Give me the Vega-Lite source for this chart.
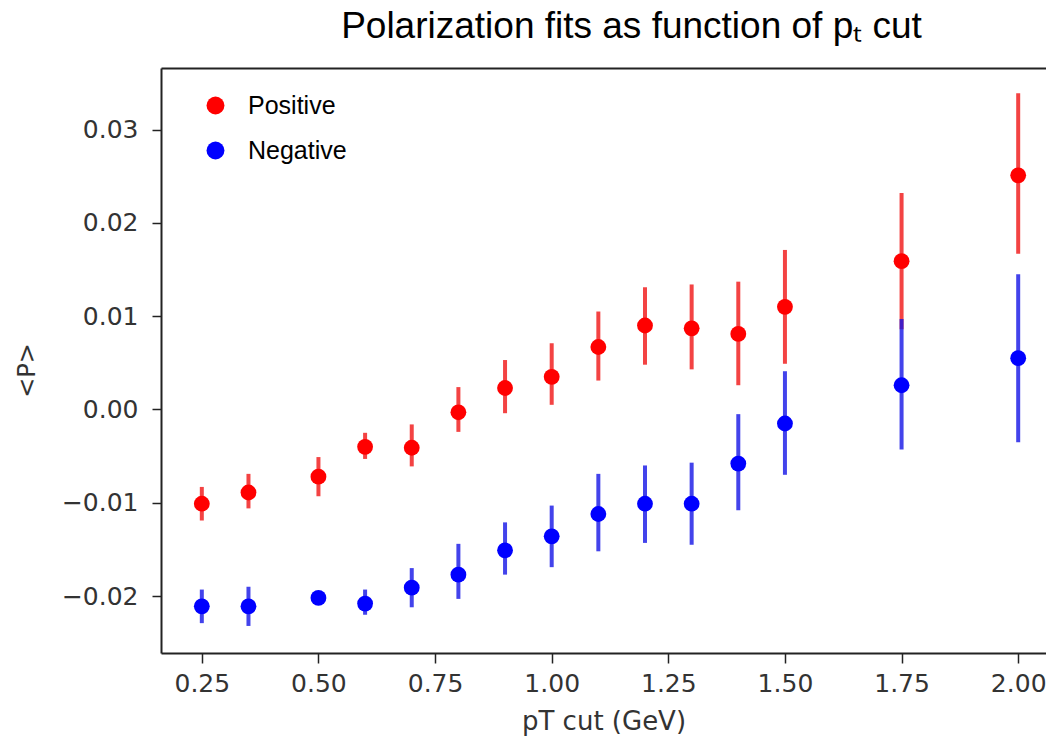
{
  "$schema": "https://vega.github.io/schema/vega-lite/v6.json",
  "autosize": {"type": "none"},
  "padding": {"left": 161, "top": 68, "right": 0, "bottom": 85},
  "width": 885,
  "height": 585,
  "background": "white",
  "title": {
    "text": "Polarization fits as function of pₜ cut",
    "font": "Liberation Sans",
    "fontSize": 37,
    "fontWeight": "normal",
    "color": "#000000",
    "anchor": "middle",
    "frame": "group",
    "dx": 28,
    "offset": 22
  },
  "config": {"view": {"stroke": null}},
  "datasets": {
    "pol": [
      {"pt": 0.25, "series": "Positive", "P": -0.0101, "lo": -0.0119, "hi": -0.0083},
      {"pt": 0.35, "series": "Positive", "P": -0.0089, "lo": -0.0106, "hi": -0.0069},
      {"pt": 0.50, "series": "Positive", "P": -0.0072, "lo": -0.0093, "hi": -0.0051},
      {"pt": 0.60, "series": "Positive", "P": -0.0040, "lo": -0.0053, "hi": -0.0025},
      {"pt": 0.70, "series": "Positive", "P": -0.0041, "lo": -0.0061, "hi": -0.0016},
      {"pt": 0.80, "series": "Positive", "P": -0.0003, "lo": -0.0024, "hi": 0.0024},
      {"pt": 0.90, "series": "Positive", "P": 0.0023, "lo": -0.0004, "hi": 0.0053},
      {"pt": 1.00, "series": "Positive", "P": 0.0035, "lo": 0.0005, "hi": 0.0071},
      {"pt": 1.10, "series": "Positive", "P": 0.0067, "lo": 0.0031, "hi": 0.0105},
      {"pt": 1.20, "series": "Positive", "P": 0.0090, "lo": 0.0048, "hi": 0.0131},
      {"pt": 1.30, "series": "Positive", "P": 0.0087, "lo": 0.0043, "hi": 0.0134},
      {"pt": 1.40, "series": "Positive", "P": 0.0081, "lo": 0.0026, "hi": 0.0137},
      {"pt": 1.50, "series": "Positive", "P": 0.0110, "lo": 0.0049, "hi": 0.0171},
      {"pt": 1.75, "series": "Positive", "P": 0.0159, "lo": 0.0086, "hi": 0.0232},
      {"pt": 2.00, "series": "Positive", "P": 0.0251, "lo": 0.0167, "hi": 0.0339},
      {"pt": 0.25, "series": "Negative", "P": -0.0211, "lo": -0.0229, "hi": -0.0193},
      {"pt": 0.35, "series": "Negative", "P": -0.0211, "lo": -0.0232, "hi": -0.0190},
      {"pt": 0.50, "series": "Negative", "P": -0.0202, "lo": -0.0205, "hi": -0.0199},
      {"pt": 0.60, "series": "Negative", "P": -0.0208, "lo": -0.0220, "hi": -0.0193},
      {"pt": 0.70, "series": "Negative", "P": -0.0191, "lo": -0.0212, "hi": -0.0170},
      {"pt": 0.80, "series": "Negative", "P": -0.0177, "lo": -0.0203, "hi": -0.0144},
      {"pt": 0.90, "series": "Negative", "P": -0.0151, "lo": -0.0177, "hi": -0.0121},
      {"pt": 1.00, "series": "Negative", "P": -0.0136, "lo": -0.0169, "hi": -0.0103},
      {"pt": 1.10, "series": "Negative", "P": -0.0112, "lo": -0.0152, "hi": -0.0069},
      {"pt": 1.20, "series": "Negative", "P": -0.0101, "lo": -0.0143, "hi": -0.0060},
      {"pt": 1.30, "series": "Negative", "P": -0.0101, "lo": -0.0145, "hi": -0.0057},
      {"pt": 1.40, "series": "Negative", "P": -0.0058, "lo": -0.0108, "hi": -0.0005},
      {"pt": 1.50, "series": "Negative", "P": -0.0015, "lo": -0.0070, "hi": 0.0041},
      {"pt": 1.75, "series": "Negative", "P": 0.0026, "lo": -0.0043, "hi": 0.0097},
      {"pt": 2.00, "series": "Negative", "P": 0.0055, "lo": -0.0035, "hi": 0.0145}
    ]
  },
  "data": {"name": "pol"},
  "resolve": {"axis": {"x": "independent"}},
  "layer": [
    {
      "transform": [{"filter": "datum.series === 'Positive'"}],
      "mark": {"type": "rule", "strokeWidth": 4, "color": "#f01414", "opacity": 0.8},
      "encoding": {
        "x": {
          "field": "pt",
          "type": "quantitative",
          "scale": {"domain": [0.1625, 2.0596], "nice": false, "zero": false},
          "axis": {
            "orient": "bottom",
            "values": [0.25, 0.5, 0.75, 1.0, 1.25, 1.5, 1.75, 2.0],
            "format": ".2f",
            "title": "pT cut (GeV)",
            "grid": false,
            "labelFlush": false,
            "labelOverlap": false,
            "domainColor": "#222222",
            "domainWidth": 2,
            "tickColor": "#222222",
            "tickWidth": 1.5,
            "tickSize": 10,
            "labelFont": "DejaVu Sans",
            "labelFontSize": 25,
            "labelColor": "#333333",
            "labelPadding": 8,
            "titleFont": "DejaVu Sans",
            "titleFontSize": 26,
            "titleFontWeight": "normal",
            "titleColor": "#333333",
            "titlePadding": 12
          }
        },
        "y": {
          "field": "lo",
          "type": "quantitative",
          "scale": {"domain": [-0.0261, 0.0366], "nice": false, "zero": false},
          "axis": {
            "values": [-0.02, -0.01, 0, 0.01, 0.02, 0.03],
            "format": ".2f",
            "title": "<P>",
            "grid": false,
            "labelFlush": false,
            "labelOverlap": false,
            "domainColor": "#222222",
            "domainWidth": 2,
            "tickColor": "#222222",
            "tickWidth": 1.5,
            "tickSize": 9,
            "labelFont": "DejaVu Sans",
            "labelFontSize": 25,
            "labelColor": "#333333",
            "labelPadding": 14,
            "titleFont": "DejaVu Sans",
            "titleFontSize": 24,
            "titleFontWeight": "normal",
            "titleColor": "#333333",
            "titlePadding": 22,
            "titleY": 302
          }
        },
        "y2": {"field": "hi"}
      }
    },
    {
      "transform": [{"filter": "datum.series === 'Negative'"}],
      "mark": {"type": "rule", "strokeWidth": 4, "color": "#1414e6", "opacity": 0.8},
      "encoding": {
        "x": {
          "field": "pt",
          "type": "quantitative",
          "scale": {"domain": [0.1625, 2.0596], "nice": false, "zero": false},
          "axis": null
        },
        "y": {
          "field": "lo",
          "type": "quantitative",
          "scale": {"domain": [-0.0261, 0.0366], "nice": false, "zero": false}
        },
        "y2": {"field": "hi"}
      }
    },
    {
      "mark": {"type": "circle", "size": 250, "opacity": 1},
      "encoding": {
        "x": {
          "field": "pt",
          "type": "quantitative",
          "scale": {"domain": [0.1625, 2.0596], "nice": false, "zero": false},
          "axis": {
            "orient": "top",
            "labels": false,
            "ticks": false,
            "title": null,
            "grid": false,
            "domainColor": "#222222",
            "domainWidth": 2
          }
        },
        "y": {
          "field": "P",
          "type": "quantitative",
          "scale": {"domain": [-0.0261, 0.0366], "nice": false, "zero": false}
        },
        "color": {
          "field": "series",
          "type": "nominal",
          "sort": ["Positive", "Negative"],
          "scale": {"domain": ["Positive", "Negative"], "range": ["#ff0000", "#0000ff"]},
          "legend": {
            "orient": "none",
            "legendX": 42,
            "legendY": 25,
            "title": null,
            "padding": 0,
            "labelFont": "Liberation Sans",
            "labelFontSize": 25,
            "labelColor": "#000000",
            "symbolType": "circle",
            "symbolSize": 320,
            "symbolStrokeWidth": 0,
            "symbolOpacity": 1,
            "rowPadding": 19,
            "labelOffset": 20
          }
        }
      }
    }
  ]
}
